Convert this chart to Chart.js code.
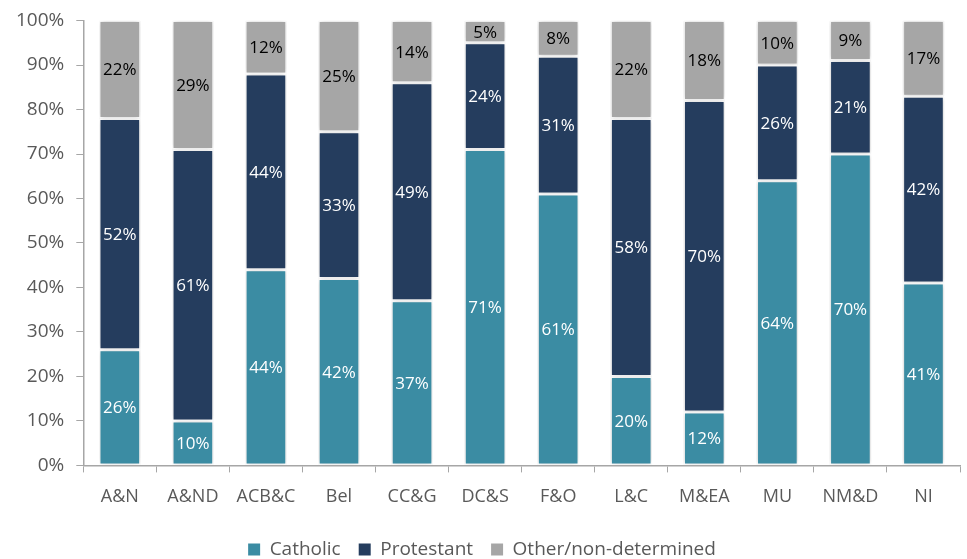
<!DOCTYPE html>
<html>
<head>
<meta charset="utf-8">
<script src="https://cdn.jsdelivr.net/npm/chart.js@4/dist/chart.umd.min.js"></script>
<style>
  html, body { margin: 0; padding: 0; background: #fff; }
  #wrap { width: 967px; height: 559px; position: relative; }
</style>
</head>
<body>
<div id="wrap"><canvas id="chart"></canvas></div>
<script>
"use strict";

const regions = ['A&N', 'A&ND', 'ACB&C', 'Bel', 'CC&G', 'DC&S', 'F&O', 'L&C', 'M&EA', 'MU', 'NM&D', 'NI'];
const catholic = [26, 10, 44, 42, 37, 71, 61, 20, 12, 64, 70, 41];
const protestant = [52, 61, 44, 33, 49, 24, 31, 58, 70, 26, 21, 42];
const other = [22, 29, 12, 25, 14, 5, 8, 22, 18, 10, 9, 17];

const FONT = "'Open Sans', 'Noto Sans', sans-serif";
const AXIS_GREY = '#A6A6A6';
const TEXT_GREY = '#595959';

/* soft shadow behind the bars, like the office chart */
const barShadow = {
    id: 'barShadow',
    beforeDatasetsDraw(chart) {
        const ctx = chart.ctx;
        ctx.save();
        ctx.shadowColor = 'rgba(0,0,0,0.22)';
        ctx.shadowBlur = 5;
        ctx.shadowOffsetX = 0;
        ctx.shadowOffsetY = 0;
    },
    afterDatasetsDraw(chart) {
        chart.ctx.restore();
    }
};

/* writes the percentage in the middle of each segment */
const segmentLabels = {
    id: 'segmentLabels',
    afterDatasetsDraw(chart) {
        const ctx = chart.ctx;
        ctx.save();
        ctx.font = `17px ${FONT}`;
        ctx.textAlign = 'center';
        ctx.textBaseline = 'middle';
        chart.data.datasets.forEach((ds, i) => {
            const meta = chart.getDatasetMeta(i);
            meta.data.forEach((bar, j) => {
                const v = ds.data[j];
                const props = bar.getProps(['x', 'y', 'base'], true);
                ctx.fillStyle = ds.labelColor;
                ctx.fillText(`${v}%`, props.x, (props.y + props.base) / 2 + 1);
            });
        });
        ctx.restore();
    }
};

const makeSet = (label, data, color, labelColor) => ({
    label: label,
    data: data,
    backgroundColor: color,
    borderColor: '#FFFFFF',
    borderWidth: 1.5,
    borderSkipped: false,
    labelColor: labelColor,
    barPercentage: 0.57,
    categoryPercentage: 1.0
});

const ctx = document.getElementById('chart').getContext('2d');
new Chart(ctx, {
    type: 'bar',
    data: {
        labels: regions,
        datasets: [
            makeSet('Catholic', catholic, '#3B8CA3', '#FFFFFF'),
            makeSet('Protestant', protestant, '#253D5E', '#FFFFFF'),
            makeSet('Other/non-determined', other, '#A6A6A6', '#000000')
        ]
    },
    options: {
        responsive: true,
        maintainAspectRatio: false,
        animation: false,
        layout: {
            padding: { top: 0, right: 7, left: 4, bottom: -10 }
        },
        plugins: {
            tooltip: { enabled: false },
            legend: {
                position: 'bottom',
                labels: {
                    font: { family: FONT, size: 19 },
                    color: TEXT_GREY,
                    boxWidth: 12,
                    boxHeight: 12,
                    padding: 18,
                    useBorderRadius: false,
                    generateLabels: (chart) => chart.data.datasets.map((ds, i) => ({
                        text: ds.label,
                        fillStyle: ds.backgroundColor,
                        strokeStyle: ds.backgroundColor,
                        lineWidth: 0,
                        datasetIndex: i,
                        fontColor: TEXT_GREY
                    }))
                }
            }
        },
        scales: {
            x: {
                stacked: true,
                grid: {
                    display: true,
                    drawOnChartArea: false,
                    drawTicks: true,
                    tickLength: 7,
                    color: AXIS_GREY,
                    offset: true
                },
                border: { color: AXIS_GREY, width: 1.5 },
                ticks: {
                    font: { family: FONT, size: 18 },
                    color: TEXT_GREY,
                    padding: 14,
                    maxRotation: 0,
                    autoSkip: false
                }
            },
            y: {
                stacked: true,
                min: 0,
                max: 100,
                grid: {
                    display: true,
                    drawOnChartArea: false,
                    drawTicks: true,
                    tickLength: 7,
                    color: AXIS_GREY
                },
                border: { color: AXIS_GREY, width: 1.5 },
                ticks: {
                    stepSize: 10,
                    font: { family: FONT, size: 19, lineHeight: 0.9 },
                    color: TEXT_GREY,
                    padding: 12,
                    callback: (v) => `${v}%`
                }
            }
        }
    },
    plugins: [barShadow, segmentLabels]
});
</script>
</body>
</html>
